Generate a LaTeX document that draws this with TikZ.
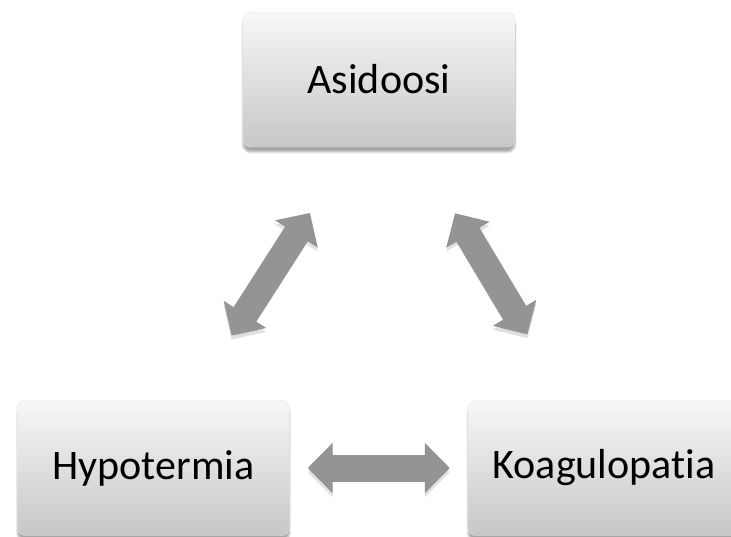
\documentclass[tikz,border=0pt]{standalone}
\usepackage{fontspec}
\setmainfont{Carlito}[Ligatures=NoCommon]
\usepackage{xcolor}
\usepackage{tikz}
\usetikzlibrary{arrows.meta, shadows.blur, calc}

\definecolor{arrowgray}{HTML}{949494}
\tikzset{
  box/.style={rounded corners=8pt, minimum width=272pt, minimum height=135pt,
    top color=white!97!black, bottom color=black!22, draw=black!10,
    font=\fontsize{42}{50}\selectfont,
    blur shadow={shadow xshift=0pt, shadow yshift=-5pt, shadow blur steps=8, shadow opacity=35}},
  dblarrow/.style={line width=27pt, draw=arrowgray,
    {Triangle[width=49pt, length=25pt]}-{Triangle[width=49pt, length=25pt]},
    preaction={draw=black, opacity=0.12, transform canvas={yshift=-4pt}}}
}

\begin{document}
\begin{tikzpicture}[x=1pt, y=-1pt]
      \useasboundingbox (0,0) rectangle (731,537);
      \clip (0,0) rectangle (731,537);

      \node[box] at (379,79.5) (A) {Asidoosi};
      \node[box] at (153.5,468) (H) {Hypotermia};
      \node[box] at (604,468) (K) {Koagulopatia};

      \draw[dblarrow, shorten <=78pt, shorten >=77pt] ([xshift=-27pt]A.south) -- ([xshift=36.5pt]H.north);
      \draw[dblarrow, shorten <=77pt, shorten >=77pt] ([xshift=36.5pt]A.south) -- ([xshift=-37pt]K.north);
      \draw[dblarrow, shorten <=18pt, shorten >=18pt] (H.east) -- (K.west);
    \end{tikzpicture}
\end{document}
